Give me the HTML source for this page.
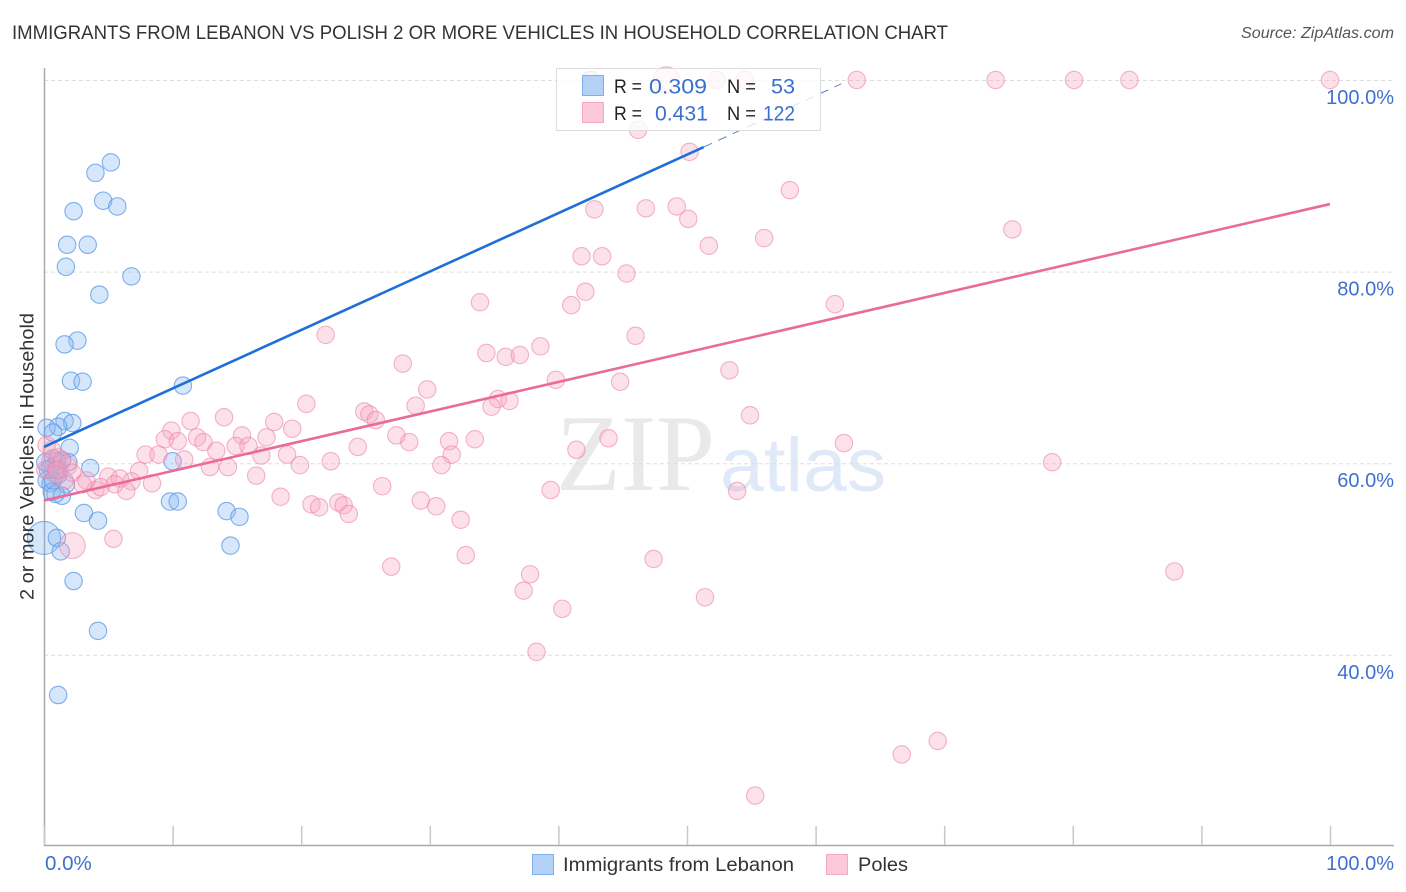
<!DOCTYPE html>
<html>
<head>
<meta charset="utf-8">
<title>Immigrants from Lebanon vs Polish 2 or more Vehicles in Household Correlation Chart</title>
<style>
html,body{margin:0;padding:0;background:#fff;width:1406px;height:892px;overflow:hidden}
svg{display:block;font-family:"Liberation Sans",sans-serif}
</style>
</head>
<body>
<svg id="chart" xmlns="http://www.w3.org/2000/svg" width="1406" height="892" viewBox="0 0 1406 892">
  <text x="12" y="39" font-size="19" fill="#333" textLength="936" lengthAdjust="spacingAndGlyphs">IMMIGRANTS FROM LEBANON VS POLISH 2 OR MORE VEHICLES IN HOUSEHOLD CORRELATION CHART</text>
  <text x="1241" y="38" font-size="15.5" font-style="italic" fill="#555" textLength="153" lengthAdjust="spacingAndGlyphs">Source: ZipAtlas.com</text>
  <text x="556" y="490" font-family="'Liberation Serif',serif" font-size="109" fill="#e9e9e9" textLength="159" lengthAdjust="spacingAndGlyphs">ZIP</text>
  <text x="720" y="491" font-size="76" fill="#dfe9f8" textLength="166" lengthAdjust="spacingAndGlyphs">atlas</text>
  <g id="grid"></g>
  <g id="axes"></g>
  <g id="blue-series"></g>
  <g id="pink-series"></g>
  <g id="trends"></g>
  <text transform="translate(33.5,600) rotate(-90)" font-size="19.5" fill="#333" textLength="287" lengthAdjust="spacingAndGlyphs">2 or more Vehicles in Household</text>
  <g>
    <rect x="556.5" y="68.5" width="264" height="62" fill="#fff" fill-opacity="0.78" stroke="#dcdcdc"/>
    <rect x="582.5" y="75.5" width="21" height="20" fill="#b3d0f7" stroke="#7fb0ec"/>
    <rect x="582.5" y="102.5" width="21" height="20" fill="#fbc9da" stroke="#f3a9c2"/>
    <g font-size="19" fill="#222">
      <text x="614" y="93" textLength="28" lengthAdjust="spacingAndGlyphs">R =</text>
      <text x="727" y="93" textLength="29" lengthAdjust="spacingAndGlyphs">N =</text>
      <text x="614" y="120" textLength="28" lengthAdjust="spacingAndGlyphs">R =</text>
      <text x="727" y="120" textLength="29" lengthAdjust="spacingAndGlyphs">N =</text>
    </g>
    <g font-size="21.5" fill="#3a70cc">
      <text x="649" y="93.5" textLength="58" lengthAdjust="spacingAndGlyphs">0.309</text>
      <text x="771" y="93.5" textLength="24" lengthAdjust="spacingAndGlyphs">53</text>
      <text x="655" y="120.5" textLength="53" lengthAdjust="spacingAndGlyphs">0.431</text>
      <text x="763" y="120.5" textLength="32" lengthAdjust="spacingAndGlyphs">122</text>
    </g>
  </g>
  <g>
    <rect x="532.5" y="854.5" width="21" height="20" fill="#b3d0f7" stroke="#7fb0ec"/>
    <text x="563" y="871" font-size="19.5" fill="#333" textLength="231" lengthAdjust="spacingAndGlyphs">Immigrants from Lebanon</text>
    <rect x="826.5" y="854.5" width="21" height="20" fill="#fbc9da" stroke="#f3a9c2"/>
    <text x="858" y="871" font-size="19.5" fill="#333" textLength="50" lengthAdjust="spacingAndGlyphs">Poles</text>
  </g>
</svg>
<script>
// Data (percent values)
const yTicks = [100, 80, 60, 40];
const yTickLabels = ["100.0%", "80.0%", "60.0%", "40.0%"];
const xTicks = [0, 10, 20, 30, 40, 50, 60, 70, 80, 90, 100];
const xEndLabels = ["0.0%", "100.0%"];

const lebanonX = [5.2,4.0,4.6,5.7,2.3,1.8,3.4,1.7,6.8,4.3,2.6,1.6,2.1,3.0,10.8,1.6,2.2,1.1,0.2,0.7,2.0,10.0,3.6,1.4,1.0,0.5,0.9,0.2,1.7,0.5,0.6,1.4,0.9,3.1,9.8,10.4,14.2,15.2,4.2,0,1.0,1.3,14.5,2.3,4.2,1.1,42.5,0.3,1.2,0.7,0.1,1.9,1.1,0.7];
const lebanonY = [91.4,90.3,87.4,86.8,86.3,82.8,82.8,80.5,79.5,77.6,72.8,72.4,68.6,68.5,68.1,64.4,64.2,63.8,63.7,63.2,61.6,60.2,59.5,60.3,60.2,59.5,59.3,58.2,57.8,57.9,57.0,56.6,56.8,54.8,56.0,56.0,55.0,54.4,54.0,52.2,52.2,50.8,51.4,47.7,42.5,35.8,100,59.3,59.3,60.5,60.1,60.1,58.8,58.2];
const lebanonWeight = {39: 3.6};

const polesX = [63.2,74.0,80.1,84.4,100,48.4,52.3,54.5,46.2,50.2,58.0,42.8,46.8,49.2,50.1,51.7,56.0,75.3,41.8,43.4,45.3,42.1,41.0,33.9,61.5,21.9,46.0,38.6,34.4,35.9,37.0,27.9,53.3,39.8,44.8,29.8,35.3,36.2,34.8,28.9,20.4,54.9,24.9,25.3,25.8,14.0,11.4,17.9,19.3,9.9,9.4,11.9,10.4,12.4,13.4,15.4,17.3,14.9,15.9,27.4,28.4,31.5,33.5,43.9,62.2,41.4,24.4,7.9,8.9,10.9,18.9,31.7,78.4,22.3,16.9,19.9,30.9,12.9,14.3,7.4,16.5,5.0,5.9,6.8,8.4,5.5,26.3,4.0,4.4,6.4,53.9,39.4,18.4,29.3,20.8,21.4,22.9,23.3,23.7,30.5,32.4,5.4,2.2,32.8,27.0,47.4,87.9,37.8,37.3,40.3,51.4,38.3,66.7,69.5,55.3,0.5,1.1,1.4,1.9,2.2,0.9,3.0,3.3,0.1,0.6,0.2,1.0,1.6];
const polesY = [100,100,100,100,100,100,100,100,94.8,92.5,88.5,86.5,86.6,86.8,85.5,82.7,83.5,84.4,81.6,81.6,79.8,77.9,76.5,76.8,76.6,73.4,73.3,72.2,71.5,71.1,71.3,70.4,69.7,68.7,68.5,67.7,66.7,66.5,65.9,66.0,66.2,65.0,65.4,65.1,64.5,64.8,64.4,64.3,63.6,63.4,62.5,62.7,62.3,62.2,61.3,62.9,62.7,61.8,61.8,62.9,62.2,62.3,62.5,62.6,62.1,61.4,61.7,60.9,60.9,60.4,60.9,60.9,60.1,60.2,60.8,59.8,59.8,59.6,59.6,59.2,58.7,58.6,58.4,58.1,57.9,57.8,57.6,57.2,57.5,57.1,57.1,57.2,56.5,56.1,55.7,55.4,55.9,55.6,54.7,55.5,54.1,52.1,51.4,50.4,49.2,50.0,48.7,48.4,46.7,44.8,46.0,40.3,29.6,31.0,25.3,60.3,60.6,60.3,59.7,59.0,58.8,57.8,58.2,59.3,61.4,61.9,59.3,58.2];
const polesWeight = {5: 2.3, 102: 2.2};

const lebanonTrendX = [0, 51.3, 62];
const lebanonTrendY = [61.7, 93.0, 99.6];
const polesTrendX = [0, 100];
const polesTrendY = [56.1, 87.05];

// Axis functions
const xScale = v => 44 + v * 12.86;
const yScale = v => 80 + (100 - v) * 9.58;
const NS = "http://www.w3.org/2000/svg";
function make(tag, attrs, parent) {
  const el = document.createElementNS(NS, tag);
  for (const k in attrs) el.setAttribute(k, attrs[k]);
  parent.appendChild(el);
  return el;
}

const grid = document.getElementById("grid");
const axes = document.getElementById("axes");
yTicks.forEach((t, i) => {
  const line = make("line", {x1: 44, x2: 1394, y1: yScale(t) + 0.5, y2: yScale(t) + 0.5, stroke: "#dddddd", "stroke-width": 1, "stroke-dasharray": "4 3"}, grid);
  
  
  const label = make("text", {x: 1394, y: yScale(t) + 24, "font-size": 20, fill: "#3f70d0", "text-anchor": "end"}, axes);
  
  
  label.textContent = yTickLabels[i];
});
const yAxisLine = make("line", {x1: 44.5, x2: 44.5, y1: 68, y2: 846, stroke: "#aaaaaa", "stroke-width": 1.5}, axes);


const xAxisLine = make("line", {x1: 44, x2: 1394, y1: 845.5, y2: 845.5, stroke: "#aaaaaa", "stroke-width": 1.5}, axes);


xTicks.forEach(t => {
  const tick = make("line", {x1: xScale(t) + 0.5, x2: xScale(t) + 0.5, y1: 826, y2: 845, stroke: "#c8c8c8", "stroke-width": 1.5}, axes);
  
  
});
const xLabelStart = make("text", {x: 45, y: 870, "font-size": 20.5, fill: "#3f70d0"}, axes);


xLabelStart.textContent = xEndLabels[0];
const xLabelEnd = make("text", {x: 1394, y: 870, "font-size": 20, fill: "#3f70d0", "text-anchor": "end"}, axes);


xLabelEnd.textContent = xEndLabels[1];

// Points
const blueGroup = document.getElementById("blue-series");
lebanonX.forEach((x, i) => {
  const w = lebanonWeight[i] || 1;
  const dot = make("circle", {cx: xScale(x), cy: yScale(lebanonY[i]), r: 8.7 * Math.sqrt(w), fill: "#8ab9f2", "fill-opacity": 0.34, stroke: "#5f9ce6", "stroke-opacity": 0.8, "stroke-width": 1.1}, blueGroup);
  
  
});
const pinkGroup = document.getElementById("pink-series");
polesX.forEach((x, i) => {
  const w = polesWeight[i] || 1;
  const dot = make("circle", {cx: xScale(x), cy: yScale(polesY[i]), r: 8.7 * Math.sqrt(w), fill: "#f9a3bf", "fill-opacity": 0.32, stroke: "#ec86a9", "stroke-opacity": 0.62, "stroke-width": 1.1}, pinkGroup);
  
  
});

// Trend lines
const trends = document.getElementById("trends");
const blueSolid = make("line", {x1: xScale(lebanonTrendX[0]), y1: yScale(lebanonTrendY[0]), x2: xScale(lebanonTrendX[1]), y2: yScale(lebanonTrendY[1]), stroke: "#1f6fd8", "stroke-width": 2.6}, trends);


const blueDash = make("line", {x1: xScale(lebanonTrendX[1]), y1: yScale(lebanonTrendY[1]), x2: xScale(lebanonTrendX[2]), y2: yScale(lebanonTrendY[2]), stroke: "#5f85c8", "stroke-width": 1, "stroke-dasharray": "9 7"}, trends);


const pinkSolid = make("line", {x1: xScale(polesTrendX[0]), y1: yScale(polesTrendY[0]), x2: xScale(polesTrendX[1]), y2: yScale(polesTrendY[1]), stroke: "#ea6b97", "stroke-width": 2.6}, trends);


</script>
</body>
</html>
